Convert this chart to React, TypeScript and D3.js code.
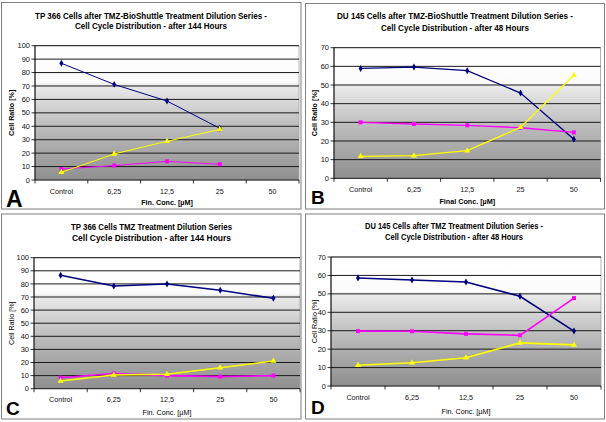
import React from "react";
import * as d3 from "d3";

const categories = ["Control", "6,25", "12,5", "25", "50"];
const ticks100 = [0, 10, 20, 30, 40, 50, 60, 70, 80, 90, 100];
const ticks70 = [0, 10, 20, 30, 40, 50, 60, 70];

// Panel A: TP 366, TMZ-BioShuttle, 144 h
const aG1 = [86.9, 71.2, 58.8, 38.5, null];
const aS = [8.2, 10.7, 13.9, 11.7, null];
const aG2M = [5.7, 19.4, 28.8, 37.7, null];
// Panel B: DU 145, TMZ-BioShuttle, 48 h
const bG1 = [58.9, 59.6, 57.7, 45.7, 20.9];
const bS = [30.0, 29.1, 28.4, 27.1, 24.6];
const bG2M = [11.8, 12.1, 14.8, 27.3, 55.2];
// Panel C: TP 366, TMZ, 144 h
const cG1 = [86.6, 78.4, 79.9, 75.1, 69.0];
const cS = [8.4, 11.6, 10.0, 9.2, 10.0];
const cG2M = [5.9, 10.5, 11.0, 16.0, 21.1];
// Panel D: DU 145, TMZ, 48 h
const dG1 = [58.6, 57.5, 56.4, 48.7, 29.8];
const dS = [29.8, 29.7, 28.3, 27.5, 47.7];
const dG2M = [11.3, 12.6, 15.3, 23.4, 22.3];

const FONT = "'Liberation Sans', Arial, sans-serif";

type Cfg = {
  id: string;
  letter: string;
  letterSize: number;
  letterX: number;
  letterY: number;
  box: [number, number, number, number];
  plot: [number, number, number, number];
  ymax: number;
  ticks: number[];
  title: [string, string];
  titleW: [number, number];
  titleY: [number, number];
  titleCx: number;
  xTitle: string;
  xTitleDy: number;
  yTitleX: number;
  axisBold: boolean;
  lw: number;
  series: (number | null)[][];
};

const panels: Cfg[] = [
  {
    id: "A", letter: "A", letterSize: 23, letterX: 6, letterY: 207,
    box: [1.5, 2.5, 301, 209], plot: [35, 45.7, 299, 180], ymax: 100, ticks: ticks100,
    title: ["TP 366 Cells after TMZ-BioShuttle Treatment Dilution Series -", "Cell Cycle Distribution - after 144 Hours"],
    titleW: [232, 152], titleY: [18.5, 28.5], titleCx: 151,
    xTitle: "Fin. Conc. [µM]", xTitleDy: 24.5, yTitleX: 11.7, axisBold: true, lw: 1,
    series: [aG1, aS, aG2M],
  },
  {
    id: "B", letter: "B", letterSize: 19, letterX: 311, letterY: 204,
    box: [305.5, 3.5, 604.5, 209], plot: [334, 47.7, 600.5, 178.3], ymax: 70, ticks: ticks70,
    title: ["DU 145 Cells after TMZ-BioShuttle Treatment Dilution Series -", "Cell Cycle Distribution  - after 48 Hours"],
    titleW: [236, 148], titleY: [18.5, 30.5], titleCx: 455,
    xTitle: "Final Conc. [µM]", xTitleDy: 25.5, yTitleX: 314.7, axisBold: true, lw: 1.3,
    series: [bG1, bS, bG2M],
  },
  {
    id: "C", letter: "C", letterSize: 19, letterX: 6, letterY: 415,
    box: [1.5, 214, 301, 419], plot: [34, 257.7, 300, 388.7], ymax: 100, ticks: ticks100,
    title: ["TP 366 Cells TMZ Treatment Dilution Series", "Cell Cycle Distribution - after 144 Hours"],
    titleW: [161, 159], titleY: [229.5, 240.5], titleCx: 151.5,
    xTitle: "Fin. Conc. [µM]", xTitleDy: 26, yTitleX: 11.7, axisBold: false, lw: 1.6,
    series: [cG1, cS, cG2M],
  },
  {
    id: "D", letter: "D", letterSize: 19, letterX: 311, letterY: 414,
    box: [305.5, 214, 604.5, 419], plot: [331, 257, 601, 386], ymax: 70, ticks: ticks70,
    title: ["DU 145 Cells after TMZ Treatment Dilution Series -", "Cell Cycle Distribution -  after 48 Hours"],
    titleW: [178, 138], titleY: [229, 240], titleCx: 454,
    xTitle: "Fin. Conc. [µM]", xTitleDy: 27.5, yTitleX: 314, axisBold: false, lw: 1.6,
    series: [dG1, dS, dG2M],
  },
];

const colors = ["#000080", "#ff00ff", "#ffff00"];
const symbols = [d3.symbolDiamond, d3.symbolSquare, d3.symbolTriangle];
const symSizes = [14, 16, 16];

function Panel({ c }: { c: Cfg }) {
  const [px0, py0, px1, py1] = c.plot;
  const x = d3.scaleBand<string>().domain(categories).range([px0, px1]).padding(0);
  const y = d3.scaleLinear().domain([0, c.ymax]).range([py1, py0]);
  const cx = (i: number) => (x(categories[i]) as number) + x.bandwidth() / 2;
  const line = d3
    .line<number | null>()
    .defined((d) => d != null)
    .x((_, i) => cx(i))
    .y((d) => y(d as number));
  const [bx0, by0, bx1, by1] = c.box;
  const gid = "grad" + c.id;
  return (
    <g>
      <rect x={bx0} y={by0} width={bx1 - bx0} height={by1 - by0} fill="#fff" stroke="#7f7f7f" strokeWidth={1} />
      <defs>
        <linearGradient id={gid} x1="0" y1="0" x2="0" y2="1">
          <stop offset="0" stopColor="#ffffff" />
          <stop offset="0.27" stopColor="#fbfbfb" />
          <stop offset="0.29" stopColor="#ebebeb" />
          <stop offset="0.6" stopColor="#bcbcbc" />
          <stop offset="1" stopColor="#8f8f8f" />
        </linearGradient>
      </defs>
      <rect x={px0} y={py0} width={px1 - px0} height={py1 - py0} fill={`url(#${gid})`} stroke="#a0a0a0" strokeWidth={0.8} />
      {c.ticks.map((t) => (
        <line key={"g" + t} x1={px0} x2={px1} y1={y(t)} y2={y(t)} stroke="#1a1a1a" strokeWidth={1} />
      ))}
      <line x1={px0} x2={px0} y1={py0} y2={py1} stroke="#000" strokeWidth={1} />
      {c.ticks.map((t) => (
        <g key={"t" + t}>
          <line x1={px0 - 3.5} x2={px0} y1={y(t)} y2={y(t)} stroke="#000" strokeWidth={0.8} />
          <text x={px0 - 5} y={y(t)} dy="0.35em" textAnchor="end" fontSize={7.5} fontFamily={FONT} fill="#111">
            {t}
          </text>
        </g>
      ))}
      {categories.map((cat, i) => (
        <g key={cat}>
          <line x1={x(cat) as number} x2={x(cat) as number} y1={py1} y2={py1 + 3.5} stroke="#000" strokeWidth={0.8} />
          <text x={cx(i)} y={py1 + 11} dy="0.35em" textAnchor="middle" fontSize={7.2} fontFamily={FONT} fill="#111">
            {cat}
          </text>
        </g>
      ))}
      <line x1={px1} x2={px1} y1={py1} y2={py1 + 3.5} stroke="#000" strokeWidth={0.8} />
      {c.title.map((t, i) => (
        <text key={i} x={c.titleCx} y={c.titleY[i]} textAnchor="middle" fontSize={8.5} fontWeight="bold" fontFamily={FONT}
          textLength={c.titleW[i]} lengthAdjust="spacingAndGlyphs" fill="#000">
          {t}
        </text>
      ))}
      <text x={(px0 + px1) / 2} y={py1 + c.xTitleDy} textAnchor="middle" fontSize={7.2} fontWeight={c.axisBold ? "bold" : "normal"} fontFamily={FONT}>
        {c.xTitle}
      </text>
      <text transform={`translate(${c.yTitleX},${(py0 + py1) / 2}) rotate(-90)`} dy="0.35em" textAnchor="middle" fontSize={7.2}
        fontWeight={c.axisBold ? "bold" : "normal"} fontFamily={FONT}>
        Cell Ratio [%]
      </text>
      {c.series.map((s, k) => (
        <g key={"s" + k}>
          <path d={line(s) || ""} fill="none" stroke={colors[k]} strokeWidth={c.lw} />
          {s.map((v, i) =>
            v == null ? null : (
              <path key={i} d={d3.symbol().type(symbols[k]).size(symSizes[k])() || ""} transform={`translate(${cx(i)},${y(v)})`} fill={colors[k]} />
            )
          )}
        </g>
      ))}
      <text x={c.letterX} y={c.letterY} fontSize={c.letterSize} fontWeight="bold" fontFamily={FONT} fill="#000">
        {c.letter}
      </text>
    </g>
  );
}

export default function App() {
  return (
    <svg width={606} height={422} style={{ position: "fixed", left: 0, top: 0, background: "#fff" }}>
      <rect x={0} y={0} width={606} height={422} fill="#fff" />
      {panels.map((p) => (
        <Panel key={p.id} c={p} />
      ))}
    </svg>
  );
}
